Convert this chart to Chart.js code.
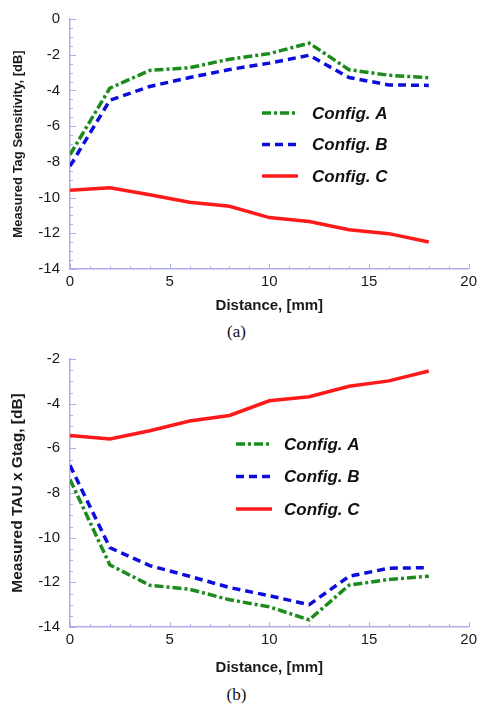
<!DOCTYPE html>
<html>
<head>
<meta charset="utf-8">
<script src="https://cdn.jsdelivr.net/npm/chart.js@4"></script>
<style>
  html, body { margin: 0; padding: 0; background: #fff; }
  body { width: 481px; height: 709px; position: relative; overflow: hidden; }
  canvas { position: absolute; left: 0; }
  .caption {
    position: absolute; width: 481px; left: 0; text-align: center;
    font: 17px "Liberation Serif", "Times New Roman", serif; color: #111;
  }
</style>
</head>
<body>
<canvas id="chartA" width="481" height="322" style="top:0"></canvas>
<div class="caption" style="left:-4px; top:322px">(a)</div>
<canvas id="chartB" width="481" height="340" style="top:340px"></canvas>
<div class="caption" style="left:-4px; top:685px">(b)</div>

<script>
/* ─── DATA ────────────────────────────────────────────── */
const distance = [0, 2, 4, 6, 8, 10, 12, 14, 16, 18]

// (a) measured tag sensitivity, dB
const sensA = [-7.6, -3.87, -2.88, -2.73, -2.25, -1.94, -1.35, -2.84, -3.15, -3.29]
const sensB = [-8.24, -4.55, -3.78, -3.28, -2.83, -2.47, -2.03, -3.28, -3.69, -3.72]
const sensC = [-9.59, -9.45, -9.84, -10.26, -10.49, -11.12, -11.34, -11.8, -12.02, -12.49]

// (b) measured TAU x Gtag, dB
const tauA = [-7.39, -11.22, -12.13, -12.31, -12.78, -13.1, -13.68, -12.13, -11.87, -11.73]
const tauB = [-6.76, -10.45, -11.25, -11.73, -12.23, -12.6, -13.0, -11.73, -11.37, -11.34]
const tauC = [-5.43, -5.58, -5.21, -4.78, -4.53, -3.87, -3.69, -3.22, -2.98, -2.54]

const seriesNames = ['Config. A', 'Config. B', 'Config. C']

/* ─── STYLE ───────────────────────────────────────────── */
const AXIS  = '#adadec'
const TEXT  = '#1a1a1a'
const SANS  = '"Liberation Sans", Arial, sans-serif'

const LINE_STYLES = [
  { color: '#1b8c1b', dash: [9, 3, 3, 3] },   // dash-dot
  { color: '#0c0cdc', dash: [8, 5] },         // dashed
  { color: '#ff1a1a', dash: [] },             // solid
]

/* ─── PLUGINS ─────────────────────────────────────────── */

// inward minor/major ticks on both axes
const innerTicks = {
  id: 'innerTicks',
  beforeDatasetsDraw(chart) {
    const { ctx, scales: { x, y } } = chart
    ctx.save()
    ctx.strokeStyle = AXIS
    ctx.lineWidth = 1
    ctx.beginPath()
    for (let v = y.min; v <= y.max + 1e-6; v += 0.5) {
      const py = Math.round(y.getPixelForValue(v)) + 0.5
      const len = Math.abs(v % 2) < 1e-6 ? 6 : 3
      ctx.moveTo(x.left, py); ctx.lineTo(x.left + len, py)
    }
    for (let v = x.min; v <= x.max + 1e-6; v += 1) {
      const px = Math.round(x.getPixelForValue(v)) + 0.5
      const len = v % 5 === 0 ? 5 : 3
      ctx.moveTo(px, y.bottom); ctx.lineTo(px, y.bottom - len)
    }
    ctx.stroke()
    ctx.restore()
  },
}

// hand-placed legend inside the plot area
const lineLegend = {
  id: 'lineLegend',
  afterDatasetsDraw(chart, args, opts) {
    const { ctx } = chart
    ctx.save()
    ctx.font = `italic bold 17px ${SANS}`
    ctx.textBaseline = 'middle'
    chart.data.datasets.forEach((ds, i) => {
      const yy = opts.top + i * opts.step
      ctx.strokeStyle = ds.borderColor
      ctx.lineWidth = 3.5
      ctx.setLineDash(ds.borderDash)
      ctx.beginPath()
      ctx.moveTo(opts.x, yy); ctx.lineTo(opts.x + 36, yy)
      ctx.stroke()
      ctx.fillStyle = '#111'
      ctx.fillText(ds.label, opts.textX, yy + 1)
    })
    ctx.restore()
  },
}

/* ─── BUILDER ─────────────────────────────────────────── */

const buildChart = (canvas, values, { yMin, yMax, yTitle, yTitleSize, legend, padTop, xTitlePad }) => {
  const datasets = values.map((vals, i) => ({
    label:       seriesNames[i],
    data:        distance.map((d, k) => ({ x: d, y: vals[k] })),
    borderColor: LINE_STYLES[i].color,
    borderDash:  LINE_STYLES[i].dash,
    borderWidth: 3.5,
    pointRadius: 0,
    tension:     0,
    fill:        false,
  }))

  return new Chart(canvas, {
    type: 'line',
    data: { datasets },
    plugins: [innerTicks, lineLegend],
    options: {
      responsive: false,
      devicePixelRatio: 1,
      animation: false,
      layout: { padding: { top: padTop, right: 8, left: 0, bottom: 0 } },
      plugins: {
        legend:  { display: false },
        tooltip: { enabled: false },
        lineLegend: legend,
      },
      scales: {
        x: {
          type: 'linear', min: 0, max: 20,
          afterFit: s => { s.height = 53 },
          ticks: { stepSize: 5, color: TEXT, font: { family: SANS, size: 15 }, padding: 4 },
          grid:   { display: false, drawTicks: false },
          border: { color: AXIS, width: 1.5 },
          title:  {
            display: true, text: 'Distance, [mm]', color: TEXT,
            font: { family: SANS, size: 15, weight: 'bold' },
            padding: { top: 0, bottom: xTitlePad },
          },
        },
        y: {
          type: 'linear', min: yMin, max: yMax,
          afterFit: s => { s.width = 70 },
          ticks: { stepSize: 2, color: TEXT, font: { family: SANS, size: 15 }, padding: 10 },
          grid:   { display: false, drawTicks: false },
          border: { color: AXIS, width: 1.5 },
          title:  {
            display: true, text: yTitle, color: TEXT,
            font: { family: SANS, size: yTitleSize, weight: 'bold' },
            padding: { top: 18 - yTitleSize * 0.6, bottom: 0 },
          },
        },
      },
    },
  })
}

buildChart(document.getElementById('chartA'), [sensA, sensB, sensC], {
  yMin: -14, yMax: 0,
  yTitle: 'Measured Tag Sensitivity, [dB]', yTitleSize: 13,
  padTop: 10, xTitlePad: 7,
  legend: { x: 262, textX: 312, top: 113, step: 31.5 },
})

buildChart(document.getElementById('chartB'), [tauA, tauB, tauC], {
  yMin: -14, yMax: -2,
  yTitle: 'Measured TAU x Gtag, [dB]', yTitleSize: 15.5,
  padTop: 11, xTitlePad: 3,
  legend: { x: 236, textX: 284, top: 104, step: 32.5 },
})
</script>
</body>
</html>
